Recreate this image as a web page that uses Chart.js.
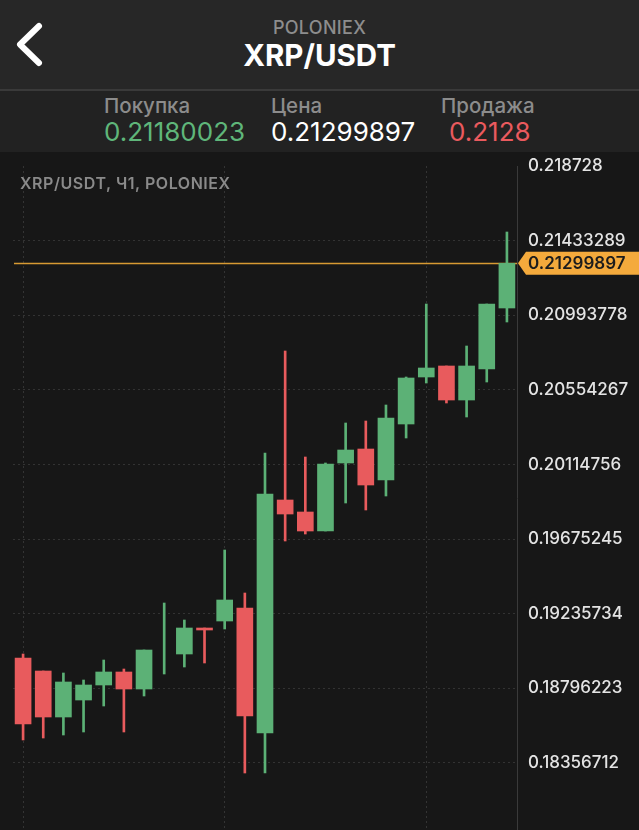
<!DOCTYPE html>
<html><head><meta charset="utf-8">
<script src="https://cdn.jsdelivr.net/npm/chart.js@4"></script>
<style>
html,body{margin:0;padding:0;background:#171717;width:639px;height:830px;overflow:hidden;font-family:Inter,"Noto Sans",sans-serif;}
.abs{position:absolute;white-space:nowrap;}
#hdr{position:absolute;left:0;top:0;width:639px;height:89px;background:#272727;}
#sep{position:absolute;left:0;top:89px;width:639px;height:2px;background:#3a3a3a;}
#row{position:absolute;left:0;top:91px;width:639px;height:61px;background:#222222;}
#ex{left:0;width:639px;top:19px;text-align:center;font-size:18px;line-height:18px;font-weight:500;color:#8d8d8d;letter-spacing:0.3px;}
#pair{left:0;width:639px;top:41px;text-align:center;font-size:29.5px;line-height:29.5px;font-weight:700;color:#ffffff;}
.lbl{font-size:20.5px;line-height:20.5px;font-weight:500;color:#8c8c8c;top:96px;}
.val{font-size:26px;line-height:26px;font-weight:400;top:119px;}
#ttl{left:20px;top:175px;font-size:16px;line-height:16px;font-weight:600;color:#8a8a8a;letter-spacing:0.55px;}
#wrap{position:absolute;left:0;top:152px;width:639px;height:678px;}
</style></head>
<body>
<div id="hdr"></div><div id="sep"></div><div id="row"></div>
<svg class="abs" style="left:0;top:0" width="60" height="89"><polyline points="39,26 20,44.5 39,63" fill="none" stroke="#ffffff" stroke-width="6" stroke-linecap="round" stroke-linejoin="round"/></svg>
<div id="ex" class="abs">POLONIEX</div>
<div id="pair" class="abs">XRP/USDT</div>
<div class="abs lbl" style="left:104px">Покупка</div>
<div class="abs lbl" style="left:271px">Цена</div>
<div class="abs lbl" style="left:441px">Продажа</div>
<div class="abs val" style="left:104px;color:#5fb67a">0.21180023</div>
<div class="abs val" style="left:271px;color:#ffffff">0.21299897</div>
<div class="abs val" style="left:449px;color:#ea5a5e">0.2128</div>
<div id="wrap"><canvas id="c" width="639" height="678"></canvas></div>
<div id="ttl" class="abs">XRP/USDT, Ч1, POLONIEX</div>
<script>
const categories = ['1','2','3','4','5','6','7','8','9','10','11','12','13','14','15','16','17','18','19','20','21','22','23','24','25'];
const open  = [0.189751,0.188985,0.186276,0.187277,0.188161,0.188927,0.187925,0.190500,0.189987,0.191518,0.191930,0.192696,0.185334,0.199057,0.198350,0.197231,0.201236,0.202060,0.200235,0.203533,0.206301,0.206949,0.204946,0.206772,0.210365];
const high  = [0.189987,0.188985,0.188868,0.188455,0.189633,0.189103,0.190222,0.192990,0.191989,0.191518,0.196112,0.193579,0.201825,0.207832,0.201589,0.201236,0.203592,0.203709,0.204652,0.206301,0.210600,0.206949,0.208127,0.210600,0.214841];
const low   = [0.184922,0.185039,0.185216,0.185393,0.186924,0.185393,0.187513,0.188809,0.189221,0.189457,0.191459,0.182978,0.182978,0.196642,0.197054,0.197231,0.198880,0.198468,0.199292,0.202708,0.205947,0.204770,0.203945,0.206006,0.209540];
const close = [0.185864,0.186276,0.188338,0.188161,0.188927,0.187925,0.190222,0.190500,0.191518,0.191400,0.193167,0.186335,0.199410,0.198232,0.197231,0.201177,0.202001,0.199940,0.203886,0.206242,0.206831,0.204946,0.206949,0.210600,0.21299897];
const tickValues = [0.18356712,0.18796223,0.19235734,0.19675245,0.20114756,0.20554267,0.20993778,0.21433289,0.218728];
const tickLabels = ['0.18356712','0.18796223','0.19235734','0.19675245','0.20114756','0.20554267','0.20993778','0.21433289','0.218728'];
const lastPrice = 0.21299897;
const lastPriceLabel = '0.21299897';

const GREEN = '#5cb176', RED = '#e85b5d';
const colors = categories.map((_, i) => close[i] >= open[i] ? GREEN : RED);

const priceLine = {
  id: 'priceLine',
  beforeDatasetsDraw(chart) {
    const {ctx, chartArea, scales} = chart;
    const y = Math.round(scales.y.getPixelForValue(lastPrice)) + 0.5;
    ctx.save();
    ctx.strokeStyle = '#d89a33';
    ctx.lineWidth = 1.5;
    ctx.beginPath(); ctx.moveTo(chartArea.left + 1, y); ctx.lineTo(chartArea.right, y); ctx.stroke();
    ctx.restore();
  },
  afterDraw(chart) {
    const {ctx, chartArea, scales} = chart;
    const y = scales.y.getPixelForValue(lastPrice);
    const x0 = chartArea.right, w = chart.width;
    ctx.save();
    ctx.fillStyle = '#f4aa3c';
    ctx.beginPath();
    ctx.moveTo(x0 + 1, y);
    ctx.lineTo(x0 + 9, y - 11.5);
    ctx.lineTo(w, y - 11.5);
    ctx.lineTo(w, y + 11.5);
    ctx.lineTo(x0 + 9, y + 11.5);
    ctx.closePath();
    ctx.fill();
    ctx.fillStyle = '#1c1c1c';
    ctx.font = '600 17px Inter';
    ctx.textBaseline = 'middle';
    ctx.textAlign = 'left';
    ctx.fillText(lastPriceLabel, x0 + 11, y + 1);
    ctx.restore();
  }
};

new Chart(document.getElementById('c'), {
  type: 'bar',
  data: {
    labels: categories,
    datasets: [
      { data: categories.map((_, i) => open[i] === close[i] ? null : [open[i], close[i]]), backgroundColor: colors, barThickness: 16, grouped: false, borderWidth: 0, borderSkipped: false },
      { data: categories.map((_, i) => [low[i], high[i]]), backgroundColor: colors, barThickness: 2, grouped: false, borderWidth: 0, borderSkipped: false }
    ]
  },
  options: {
    responsive: false,
    animation: false,
    events: [],
    layout: { padding: { top: 14, left: 13, right: 0, bottom: 0 } },
    plugins: { legend: { display: false }, tooltip: { enabled: false } },
    scales: {
      x: {
        offset: true,
        afterFit(s) { s.height = 0; },
        grid: { offset: false, drawTicks: false, lineWidth: 1, color: c => (c.index % 10 === 0) ? '#343434' : 'rgba(0,0,0,0)' },
        border: { display: false, dash: [2, 3] },
        ticks: { display: false }
      },
      y: {
        position: 'right',
        min: 0.179621,
        max: 0.218728,
        afterBuildTicks(s) { s.ticks = tickValues.map(v => ({ value: v })); },
        afterFit(s) { s.width = 122; s.paddingTop = 0; s.paddingBottom = 0; },
        grid: { drawTicks: false, lineWidth: 1, color: c => (c.tick && c.tick.value >= 0.2187) ? 'rgba(0,0,0,0)' : '#333333' },
        border: { display: true, color: '#3a3a3a', width: 1, dash: [2, 3] },
        ticks: { padding: 11, color: '#e4e4e4', font: { family: 'Inter', size: 17, weight: '500' }, callback: (v, i) => tickLabels[i] }
      }
    }
  },
  plugins: [priceLine]
});
</script>
</body></html>
